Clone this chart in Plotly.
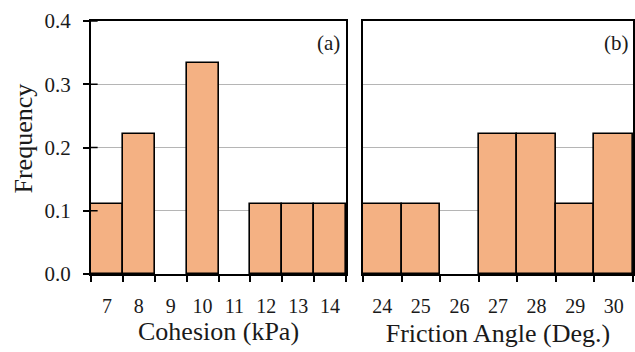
import plotly.graph_objects as go

# Relative frequency histograms of soil strength parameters
cohesion_kpa = [7, 8, 9, 10, 11, 12, 13, 14]
cohesion_freq = [0.111, 0.222, 0.0, 0.333, 0.0, 0.111, 0.111, 0.111]

friction_deg = [24, 25, 26, 27, 28, 29, 30]
friction_freq = [0.111, 0.111, 0.0, 0.222, 0.222, 0.111, 0.222]

y_ticks = [0.0, 0.1, 0.2, 0.3, 0.4]

BAR_FILL = "#F4B183"
FONT = "Times New Roman, Liberation Serif, serif"
TXT = "#1a1a1a"


def nonzero(vals):
    # empty bins get no bar outline
    return [v if v > 0 else None for v in vals]


def edges(vals):
    return [v - 0.5 for v in vals] + [vals[-1] + 0.5]


fig = go.Figure()

fig.add_trace(go.Bar(
    x=cohesion_kpa, y=nonzero(cohesion_freq), width=1,
    marker=dict(color=BAR_FILL, line=dict(color="black", width=1.6)),
    xaxis="x", yaxis="y", showlegend=False,
))
fig.add_trace(go.Bar(
    x=friction_deg, y=nonzero(friction_freq), width=1,
    marker=dict(color=BAR_FILL, line=dict(color="black", width=1.6)),
    xaxis="x2", yaxis="y2", showlegend=False,
))

common_x = dict(
    showline=True, linecolor="black", linewidth=2, mirror=True,
    showgrid=False, zeroline=False, ticks="", ticklen=0,
    ticklabelstandoff=13,
    tickfont=dict(family=FONT, size=20, color=TXT),
)

# inner half of the crossing tick marks on the left axis of panel (a)
inner_ticks = [
    dict(type="line", xref="x domain", yref="y", x0=0, x1=0.026, y0=v, y1=v,
         line=dict(color="black", width=1.5), layer="above")
    for v in y_ticks
]

fig.update_layout(
    width=635, height=352,
    margin=dict(l=91, r=0, t=21, b=78),
    paper_bgcolor="white", plot_bgcolor="white",
    font=dict(family=FONT, color=TXT),
    bargap=0,
    xaxis=dict(
        domain=[0, 0.4706], range=[6.5, 14.5],
        tickvals=cohesion_kpa, ticktext=[str(v) for v in cohesion_kpa],
        minor=dict(tickvals=edges(cohesion_kpa), ticks="outside", ticklen=6,
                   tickcolor="black", tickwidth=1.5, showgrid=False),
        title=dict(text="Cohesion (kPa)", font=dict(family=FONT, size=26, color=TXT), standoff=3),
        anchor="y", **common_x,
    ),
    xaxis2=dict(
        domain=[0.5018, 1.0], range=[23.5, 30.5],
        tickvals=friction_deg, ticktext=[str(v) for v in friction_deg],
        minor=dict(tickvals=edges(friction_deg), ticks="outside", ticklen=6,
                   tickcolor="black", tickwidth=1.5, showgrid=False),
        title=dict(text="Friction Angle (Deg.)", font=dict(family=FONT, size=26, color=TXT), standoff=8),
        anchor="y2", **common_x,
    ),
    yaxis=dict(
        domain=[0, 1], range=[0, 0.4], anchor="x",
        tickvals=y_ticks, ticktext=[f"{v:.1f}" for v in y_ticks],
        ticks="outside", ticklen=6, tickcolor="black", tickwidth=1.5,
        ticklabelstandoff=8,
        tickfont=dict(family=FONT, size=21, color=TXT),
        showgrid=True, gridcolor="#b5b5b5", gridwidth=1,
        showline=True, linecolor="black", linewidth=2, mirror=True,
        zeroline=False,
    ),
    yaxis2=dict(
        domain=[0, 1], range=[0, 0.4], anchor="x2",
        tickvals=y_ticks, showticklabels=False, ticks="",
        showgrid=True, gridcolor="#b5b5b5", gridwidth=1,
        showline=True, linecolor="black", linewidth=2, mirror=True,
        zeroline=False,
    ),
    shapes=inner_ticks,
    annotations=[
        dict(text="Frequency", xref="paper", yref="y domain", x=0, y=0.5,
             xshift=-68, yshift=9, textangle=-90,
             xanchor="center", yanchor="middle", showarrow=False,
             font=dict(family=FONT, size=26, color=TXT)),
        dict(text="(a)", xref="x domain", yref="y domain", x=1, y=1,
             xshift=-4, yshift=-8,
             xanchor="right", yanchor="top", showarrow=False,
             font=dict(family=FONT, size=21, color=TXT)),
        dict(text="(b)", xref="x2 domain", yref="y2 domain", x=1, y=1,
             xshift=-2, yshift=-8,
             xanchor="right", yanchor="top", showarrow=False,
             font=dict(family=FONT, size=21, color=TXT)),
    ],
)

fig.write_html("out.html")
